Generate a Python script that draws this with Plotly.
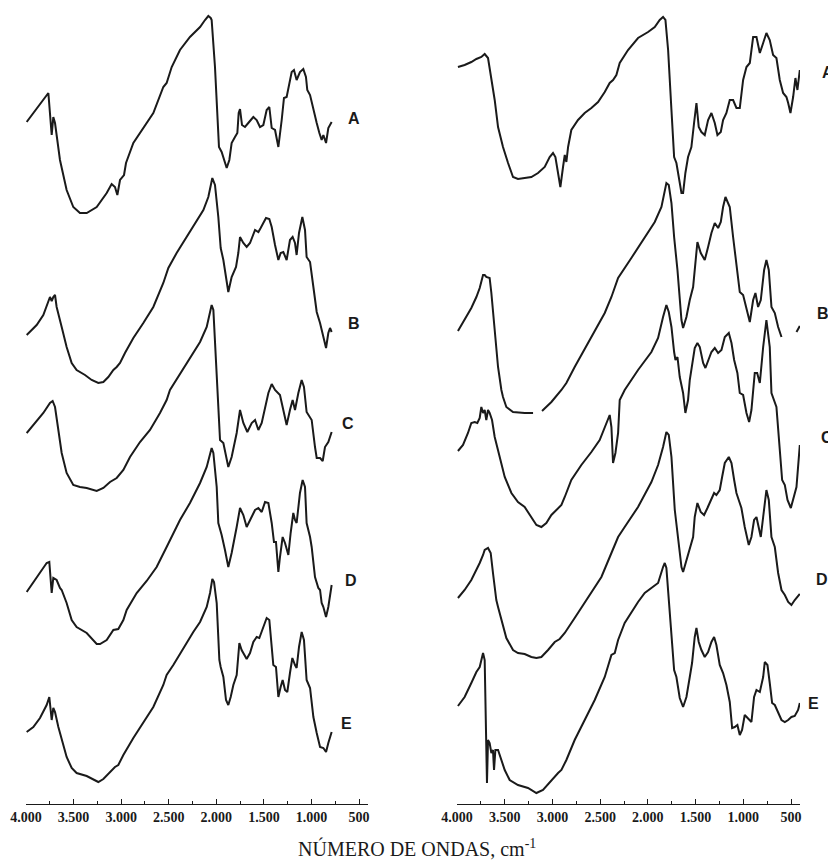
import plotly.graph_objects as go

# ---------------- data (wavenumber cm-1, relative transmittance, arbitrary units) ----------------
TICK_VALS = [4000, 3500, 3000, 2500, 2000, 1500, 1000, 500]
TICK_TEXT = ["4.000", "3.500", "3.000", "2.500", "2.000", "1.500", "1.000", "500"]
MINOR_VALS = [3750, 3250, 2750, 2250, 1750, 1250, 750]
SAMPLES = ["A", "B", "C", "D", "E"]

LEFT_A = [(3993,68.2),(3765,71.1),(3730,66.9),(3713,68.7),(3695,68.1),(3643,64.4),(3573,61.4),(3503,59.7),
          (3433,59.1),(3362,59.1),(3257,59.7),(3152,61.1),(3100,62.0),(3065,61.7),(3040,60.9),(3012,62.4),
          (2970,62.9),(2949,64.1),(2872,66.1),(2767,67.6),(2662,69.1),(2557,71.7),(2522,72.1),(2469,73.7),
          (2382,75.4),(2277,76.7),(2171,77.7),(2119,78.4),(2084,78.8),(2059,78.6),(2049,78.4),(2014,73.7),
          (1989,68.1),(1972,65.7),(1944,65.2),(1919,64.4),(1891,63.6),(1863,64.4),(1839,66.1),(1804,66.7),
          (1779,67.1),(1765,69.1),(1751,69.5),(1730,67.9),(1699,67.7),(1664,68.1),(1611,68.7),(1576,68.4),
          (1541,67.7),(1506,67.9),(1471,69.4),(1443,69.7),(1418,67.6),(1383,67.4),(1348,65.7),(1313,68.4),
          (1289,70.6),(1261,70.7),(1233,72.1),(1208,73.2),(1184,73.4),(1156,72.4),(1121,73.2),(1086,73.5),
          (1058,72.7),(1044,71.4),(1015,70.9),(980,69.4),(945,68.1),(917,67.1),(893,66.4),(875,66.9),
          (847,66.1),(823,67.6),(788,68.2)]

LEFT_B = [(3993,46.9),(3888,47.9),(3818,48.9),(3765,50.4),(3748,50.7),(3730,50.3),(3713,50.7),(3695,50.9),
          (3678,49.7),(3625,47.7),(3573,45.7),(3520,44.1),(3468,43.4),(3380,42.9),(3310,42.4),(3240,42.1),
          (3187,42.2),(3135,42.7),(3082,43.4),(3047,43.7),(3012,44.1),(2960,45.1),(2872,46.6),(2767,48.1),
          (2662,49.7),(2557,52.1),(2539,52.7),(2504,53.6),(2417,55.1),(2312,56.7),(2206,58.4),(2136,59.4),
          (2084,60.7),(2042,62.6),(2014,61.9),(1979,58.7),(1954,55.6),(1926,54.4),(1874,51.2),(1839,52.7),
          (1793,53.7),(1769,55.1),(1751,56.7),(1716,56.1),(1681,55.7),(1646,56.1),(1593,57.4),(1558,57.2),
          (1534,57.6),(1506,58.1),(1478,58.6),(1443,58.5),(1418,57.7),(1383,55.9),(1348,54.4),(1324,55.1),
          (1296,55.2),(1261,54.4),(1226,56.4),(1198,56.7),(1173,56.1),(1156,54.9),(1131,57.1),(1096,58.7),
          (1068,57.4),(1051,54.7),(1015,54.2),(980,51.7),(945,49.2),(910,48.1),(875,46.7),(847,45.6),
          (823,47.1),(805,47.6),(788,47.2)]

LEFT_C = [(3993,37.1),(3818,39.1),(3748,40.1),(3720,40.3),(3695,39.7),(3660,37.4),(3625,35.1),(3573,33.1),
          (3503,31.9),(3433,31.7),(3362,31.6),(3257,31.3),(3187,31.6),(3117,32.2),(3047,32.6),(2977,33.4),
          (2907,34.7),(2802,36.2),(2697,37.4),(2592,39.1),(2557,39.7),(2522,40.4),(2487,41.4),(2312,44.1),
          (2171,46.2),(2101,47.7),(2049,49.9),(2031,49.4),(2003,44.4),(1989,41.4),(1961,36.4),(1926,36.1),
          (1874,33.7),(1839,34.7),(1786,37.1),(1751,39.4),(1716,38.1),(1674,37.2),(1628,38.1),(1593,38.4),
          (1558,37.4),(1523,38.1),(1488,39.7),(1453,41.1),(1418,42.0),(1383,41.4),(1331,40.9),(1296,39.4),
          (1261,37.9),(1226,39.4),(1198,40.4),(1173,39.4),(1138,41.1),(1103,42.4),(1079,41.7),(1051,39.2),
          (998,38.4),(963,35.7),(945,34.6),(910,34.6),(882,34.3),(858,35.7),(823,36.2),(788,37.2)]

LEFT_D = [(3993,21.2),(3783,24.1),(3755,24.2),(3730,21.1),(3713,22.6),(3678,22.4),(3643,21.6),(3625,21.4),
          (3573,20.1),(3520,18.4),(3468,17.7),(3362,17.1),(3257,16.0),(3222,16.0),(3152,16.4),(3082,17.4),
          (3030,17.5),(2977,18.4),(2942,19.4),(2837,21.1),(2732,22.3),(2627,23.7),(2522,25.7),(2487,26.4),
          (2382,28.4),(2277,30.1),(2171,32.1),(2101,33.7),(2066,35.2),(2049,35.6),(2031,35.1),(1996,31.7),
          (1979,28.1),(1944,26.9),(1909,25.4),(1874,23.7),(1839,25.1),(1804,26.7),(1786,27.7),(1751,29.6),
          (1716,28.9),(1681,27.7),(1646,28.4),(1593,29.4),(1558,29.6),(1523,29.2),(1488,30.2),(1453,30.1),
          (1418,28.1),(1394,26.2),(1373,26.2),(1348,23.2),(1331,24.7),(1303,26.7),(1278,26.1),(1243,24.9),
          (1219,27.1),(1191,29.1),(1173,28.4),(1156,28.1),(1121,31.1),(1093,32.4),(1068,31.7),(1051,28.1),
          (1015,26.7),(998,25.7),(963,22.7),(928,21.6),(910,21.4),(893,20.1),(875,19.7),(847,18.7),
          (823,19.7),(788,21.9)]

LEFT_E = [(3993,7.2),(3923,7.7),(3853,8.6),(3783,9.9),(3755,10.7),(3730,8.4),(3713,9.6),(3695,9.2),
          (3660,7.7),(3625,6.4),(3573,4.7),(3520,3.6),(3468,3.1),(3362,2.8),(3292,2.5),(3240,2.2),
          (3187,2.5),(3117,3.2),(3065,3.7),(3030,3.9),(2977,4.9),(2872,6.6),(2767,8.1),(2662,9.7),
          (2557,11.9),(2522,12.9),(2452,13.9),(2347,15.6),(2242,17.2),(2171,18.2),(2101,19.7),(2066,21.1),
          (2042,22.5),(2024,22.2),(1996,20.1),(1968,14.4),(1954,13.7),(1926,12.7),(1898,10.4),(1874,9.9),
          (1849,10.7),(1821,11.9),(1786,12.9),(1758,16.1),(1734,15.4),(1681,14.5),(1646,15.1),(1611,16.2),
          (1576,16.7),(1548,16.6),(1506,17.6),(1471,18.6),(1443,18.4),(1418,16.1),(1401,13.9),(1373,13.7),
          (1348,10.7),(1324,11.7),(1303,12.4),(1278,11.4),(1254,11.2),(1226,13.1),(1201,14.6),(1173,13.9),
          (1156,13.6),(1131,15.7),(1103,17.2),(1079,16.4),(1051,12.4),(1015,11.6),(980,8.7),(945,7.1),
          (910,5.7),(875,5.6),(847,5.2),(823,6.1),(788,7.2)]

RIGHT_A = [(3990,73.7),(3920,73.9),(3850,74.2),(3797,74.5),(3745,74.7),(3710,75.0),(3675,74.6),(3640,72.7),
           (3605,70.4),(3570,67.7),(3518,65.7),(3465,64.1),(3413,62.7),(3361,62.5),(3291,62.6),(3221,62.7),
           (3151,63.1),(3081,63.7),(3029,64.7),(2994,65.1),(2969,64.7),(2941,63.1),(2917,61.7),(2889,63.7),
           (2871,64.9),(2854,64.2),(2836,65.7),(2802,67.4),(2732,68.4),(2662,69.1),(2592,69.6),(2522,70.2),
           (2452,71.2),(2400,72.1),(2365,72.4),(2330,72.9),(2295,74.1),(2208,75.4),(2103,76.6),(1998,77.2),
           (1928,77.7),(1876,78.4),(1841,78.7),(1816,78.4),(1788,75.4),(1753,69.4),(1725,64.7),(1701,64.1),
           (1666,62.1),(1648,61.1),(1631,61.1),(1607,63.1),(1579,64.7),(1544,65.7),(1516,68.1),(1491,70.1),
           (1467,67.7),(1439,67.2),(1404,66.9),(1369,68.4),(1334,69.1),(1299,68.1),(1271,66.9),(1236,67.2),
           (1212,68.4),(1177,69.1),(1142,70.4),(1107,70.4),(1072,69.6),(1037,69.6),(1002,72.4),(967,73.7),
           (932,74.1),(897,76.7),(862,76.7),(827,75.1),(792,76.1),(758,77.1),(723,76.4),(688,74.9),
           (653,74.6),(618,72.4),(583,71.1),(548,70.7),(530,70.1),(506,69.1),(478,70.7),(454,72.6),
           (433,71.4),(408,73.4)]

RIGHT_B = [(3990,47.3),(3920,48.4),(3850,49.6),(3797,50.7),(3762,51.6),(3727,52.9),(3710,52.9),(3693,52.7),
           (3658,52.6),(3640,51.1),(3605,47.1),(3570,43.7),(3535,41.4),(3518,40.7),(3483,39.7),(3413,39.2),
           (3291,39.1),(3203,39.1),(None,None),(3109,39.3),(3011,40.2),(2906,41.4),(2854,42.1),(2767,43.7),
           (2592,46.7),(2452,49.1),(2382,50.7),(2347,51.6),(2312,52.6),(2173,54.6),(2033,56.6),(1928,58.2),
           (1858,59.7),(1806,62.1),(1781,61.9),(1753,60.1),(1725,56.7),(1690,53.4),(1648,48.4),(1631,47.6),
           (1596,48.7),(1561,50.4),(1526,51.7),(1502,54.4),(1481,56.2),(1446,55.1),(1404,54.4),(1369,55.7),
           (1334,57.1),(1299,58.1),(1264,57.6),(1236,58.2),(1212,59.7),(1187,60.7),(1142,59.7),(1107,56.7),
           (1072,53.7),(1037,51.2),(1002,50.9),(967,49.4),(932,48.2),(897,50.4),(873,51.1),(845,49.7),
           (817,50.4),(782,53.4),(758,54.4),(733,53.4),(705,49.7),(670,49.1),(635,47.7),(600,46.7),
           (None,None),(443,47.2),(408,47.8)]

RIGHT_C = [(3990,35.3),(3937,35.9),(3885,37.1),(3850,38.1),(3815,38.2),(3787,38.1),(3762,38.6),(3745,39.7),
           (3727,39.1),(3710,39.4),(3693,38.4),(3675,39.4),(3658,39.1),(3633,38.4),(3605,36.7),(3553,34.7),
           (3500,32.7),(3430,31.1),(3361,30.2),(3291,29.7),(3221,28.7),(3168,27.9),(3116,27.7),(3064,28.1),
           (3011,28.9),(2941,29.6),(2906,29.9),(2871,30.7),(2802,32.4),(2697,33.9),(2592,35.2),(2505,36.4),
           (2400,38.9),(2382,37.7),(2365,34.1),(2340,35.1),(2312,37.1),(2295,40.4),(2243,41.4),(2173,42.4),
           (2103,43.4),(1963,45.2),(1893,46.6),(1841,48.7),(1806,49.9),(1781,49.2),(1753,47.7),(1725,45.2),
           (1711,44.4),(1690,44.7),(1666,42.7),(1631,41.1),(1607,39.1),(1579,40.4),(1561,42.4),(1509,45.6),
           (1481,46.1),(1456,45.7),(1421,44.1),(1397,43.6),(1369,44.4),(1334,45.2),(1299,45.6),(1264,45.1),
           (1229,45.4),(1194,46.7),(1152,47.1),(1124,46.1),(1096,44.4),(1062,43.1),(1037,41.1),(1002,40.9),
           (967,39.1),(939,38.2),(915,39.4),(897,41.4),(880,43.1),(855,43.1),(827,42.1),(792,45.7),
           (758,48.4),(723,45.7),(705,41.1),(653,39.7),(618,35.7),(593,32.4),(565,31.9),(537,30.4),
           (502,29.6),(478,30.4),(443,31.7),(408,35.9)]

RIGHT_D = [(3990,20.6),(3920,21.4),(3850,22.4),(3797,23.4),(3762,24.1),(3727,24.9),(3710,25.4),(3675,25.6),
           (3647,25.1),(3623,23.1),(3588,20.4),(3570,19.7),(3535,18.4),(3483,16.6),(3413,15.4),(3361,15.1),
           (3291,15.0),(3221,14.7),(3168,14.6),(3116,14.7),(3046,15.4),(2976,16.2),(2924,16.5),(2871,17.1),
           (2767,18.6),(2662,20.1),(2557,21.6),(2487,22.7),(2382,25.1),(2312,26.7),(2243,27.7),(2103,29.7),
           (1963,32.2),(1893,33.9),(1841,35.7),(1806,37.2),(1781,36.9),(1753,34.7),(1718,29.4),(1683,26.4),
           (1648,23.7),(1631,23.2),(1596,24.4),(1561,25.7),(1526,26.7),(1509,28.7),(1481,30.1),(1446,29.2),
           (1411,28.9),(1376,29.6),(1334,30.6),(1306,31.1),(1282,30.9),(1247,31.4),(1222,32.7),(1194,34.1),
           (1152,34.7),(1124,34.1),(1096,32.4),(1072,31.1),(1048,30.4),(1020,29.6),(985,27.7),(943,25.9),
           (915,26.7),(887,28.4),(862,28.7),(838,27.7),(817,26.7),(792,28.7),(758,31.4),(733,30.4),
           (705,26.7),(670,25.7),(635,23.1),(600,21.4),(565,20.9),(530,20.2),(496,19.9),(461,20.4),
           (408,21.0)]

RIGHT_E = [(3990,9.8),(3920,10.7),(3850,12.1),(3797,13.2),(3762,13.7),(3745,14.4),(3727,15.1),(3710,14.4),
           (3700,10.1),(3686,2.1),(3675,6.4),(3658,6.1),(3640,5.1),(3623,5.4),(3612,3.4),(3598,5.4),
           (3570,5.4),(3535,4.4),(3500,3.4),(3448,2.4),(3361,1.9),(3256,1.6),(3168,1.1),(3099,1.4),
           (3011,2.4),(2941,3.1),(2906,3.4),(2854,4.4),(2767,6.4),(2662,8.4),(2557,10.4),(2452,12.7),
           (2382,14.9),(2347,15.1),(2312,16.4),(2243,18.1),(2173,19.2),(2103,20.2),(2033,21.1),(1963,21.6),
           (1893,22.1),(1841,23.7),(1823,24.1),(1806,23.6),(1781,20.7),(1753,16.7),(1725,13.4),(1701,12.7),
           (1666,10.6),(1631,9.7),(1596,10.7),(1561,12.7),(1537,14.1),(1509,16.7),(1491,17.6),(1467,16.2),
           (1439,15.4),(1404,14.7),(1369,15.2),(1334,16.2),(1306,16.7),(1282,15.9),(1247,13.9),(1212,13.1),
           (1177,11.9),(1142,10.2),(1117,7.6),(1090,7.7),(1062,7.9),(1037,6.9),(1013,7.4),(985,8.9),
           (950,8.6),(915,8.2),(887,10.7),(862,11.4),(827,11.2),(792,12.7),(775,14.2),(747,13.9),
           (723,12.1),(698,10.1),(670,9.9),(635,9.1),(600,8.4),(565,8.2),(530,8.4),(496,8.7),
           (461,8.8),(426,9.4),(408,10.1)]

LEFT_SPECTRA = [LEFT_A, LEFT_B, LEFT_C, LEFT_D, LEFT_E]
RIGHT_SPECTRA = [RIGHT_A, RIGHT_B, RIGHT_C, RIGHT_D, RIGHT_E]

# ---------------- styling ----------------
W, H = 828, 860
INK = "#1a1a1a"
LINE_W = 2.0

fig = go.Figure()


def add_spectrum(pairs, xa):
    xs = [p[0] for p in pairs]
    ys = [p[1] for p in pairs]
    fig.add_trace(go.Scatter(x=xs, y=ys, mode="lines", xaxis=xa, yaxis="y",
                             line=dict(color=INK, width=LINE_W),
                             showlegend=False, hoverinfo="skip"))


for s in LEFT_SPECTRA:
    add_spectrum(s, "x")
for s in RIGHT_SPECTRA:
    add_spectrum(s, "x2")

axis_common = dict(
    range=[4000, 406], tickmode="array", tickvals=TICK_VALS, ticktext=TICK_TEXT,
    ticks="inside", ticklen=5, tickwidth=1.2, tickcolor=INK,
    showline=True, linecolor=INK, linewidth=1.3, showgrid=False, zeroline=False,
    tickfont=dict(family="Liberation Serif", size=14, color=INK, weight="bold"),
    minor=dict(tickmode="array", tickvals=MINOR_VALS, ticks="inside", ticklen=3,
               tickwidth=1, tickcolor=INK, showgrid=False),
    anchor="y", fixedrange=True, automargin=False,
)

# label positions (paper coordinates, from pixel reading of the reference)
LEFT_LABEL_POS = [(346, 118), (346, 323), (340, 423), (343, 580), (339, 723)]
RIGHT_LABEL_POS = [(820, 72), (815, 313), (819, 437), (814, 579), (806, 703)]

plot_h = 804
annotations = []
for name, (px, py) in list(zip(SAMPLES, LEFT_LABEL_POS)) + list(zip(SAMPLES, RIGHT_LABEL_POS)):
    annotations.append(dict(x=px / W, y=(plot_h - py) / plot_h, xref="paper", yref="paper",
                            text=f"<b>{name}</b>", showarrow=False, xanchor="left", yanchor="middle",
                            font=dict(family="Liberation Sans", size=16, color=INK)))

annotations.append(dict(x=417 / W, y=(plot_h - 848) / plot_h, xref="paper", yref="paper",
                        text="NÚMERO DE ONDAS, cm<sup>-1</sup>", showarrow=False,
                        xanchor="center", yanchor="middle",
                        font=dict(family="Liberation Serif", size=20, color=INK)))

fig.update_layout(
    width=W, height=H,
    margin=dict(l=0, r=0, t=0, b=H - plot_h, pad=0),
    paper_bgcolor="white", plot_bgcolor="white",
    xaxis=dict(domain=[26 / W, 368 / W], **axis_common),
    xaxis2=dict(domain=[457 / W, 800 / W], **axis_common),
    yaxis=dict(domain=[0, 1], range=[0, 80.4], visible=False, fixedrange=True),
    annotations=annotations,
    showlegend=False,
)

fig.write_html("out.html",
               config={"displayModeBar": False},
               post_script="document.body.style.margin='0';document.body.style.overflow='hidden';")
